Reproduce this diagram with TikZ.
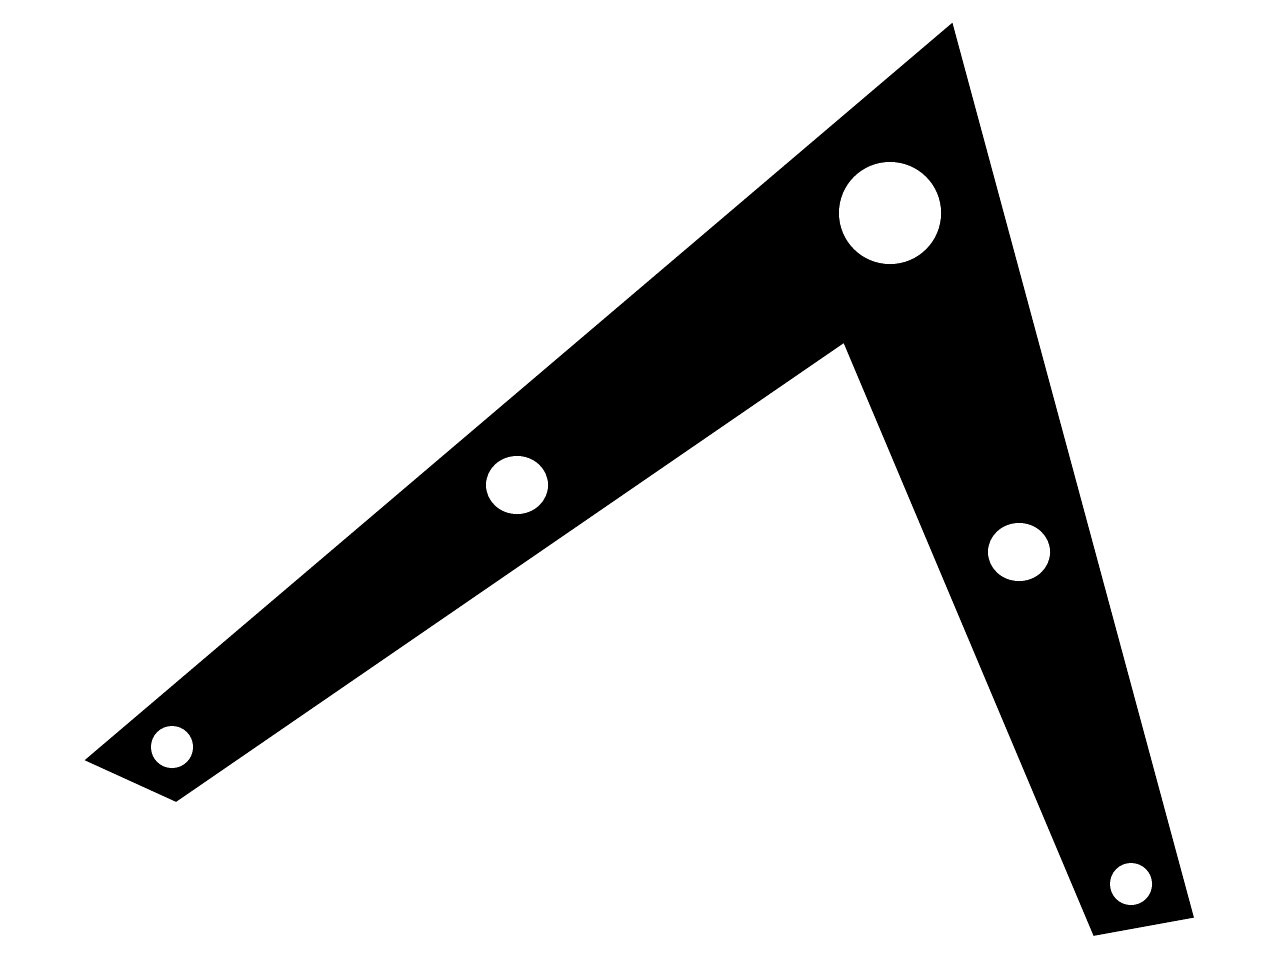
\documentclass[tikz,border=0pt]{standalone}
\tikzset{
        % the plate
        plate/.style={fill=black, draw=black, line width=0.4pt},
        % holes drilled in it
        hole/.style={fill=white, draw=none}
}
\begin{document}
\begin{tikzpicture}[x=0.01cm, y=-0.01cm]
    \useasboundingbox (0,0) rectangle (1280,960);
    \fill[plate] (86,760) -- (952,24) -- (1193,917) -- (1094,935)
        -- (844,342) -- (176,801) -- cycle;
    \fill[hole] (890,213) circle (51);
    \fill[hole] (517,485) ellipse (31 and 29);
    \fill[hole] (1019,552) ellipse (31 and 29);
    \fill[hole] (172,747) circle (21);
    \fill[hole] (1131,884) circle (21);
\end{tikzpicture}
\end{document}
